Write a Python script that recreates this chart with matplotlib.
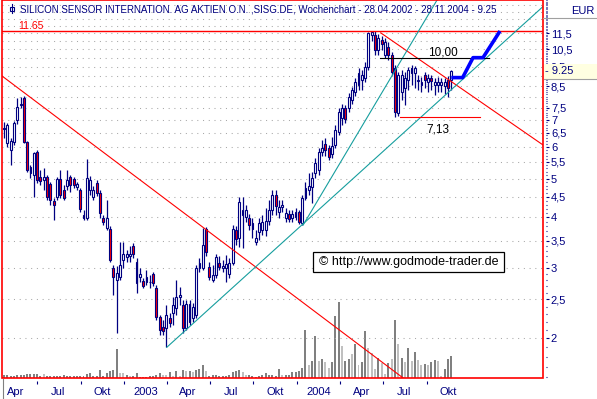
import numpy as np
import pandas as pd
import matplotlib
matplotlib.use("Agg")
import matplotlib.pyplot as plt
import matplotlib.dates as mdates
import matplotlib.transforms as mtransforms
from matplotlib.patches import Rectangle
from matplotlib.lines import Line2D
from matplotlib.ticker import FixedLocator, FixedFormatter, NullFormatter

plt.rcParams['font.family'] = ['Liberation Sans', 'DejaVu Sans']

NAVY = '#000080'
RED = '#ff0000'
TEAL = '#169e9e'

# weekly candles, week starting 22.04.2002 (chart range 28.04.2002 - 28.11.2004)
dates = pd.date_range('2002-04-22', periods=136, freq='7D')

opens = [6.64, 6.13, 5.89, 6.17, 6.99, 7.63, 7.94, 6.17, 5.35, 5.10,
         5.83, 5.05, 4.96, 5.05, 4.85, 4.40, 4.50, 4.99, 4.68, 4.80,
         5.05, 4.99, 4.77, 4.68, 4.06, 3.99, 4.68, 4.50, 4.88, 4.61,
         3.99, 3.77, 3.74, 2.99, 2.79, 2.84, 3.13, 3.19, 3.21, 3.40,
         3.10, 2.84, 2.78, 2.76, 2.76, 2.89, 2.67, 2.26, 2.14, 2.12,
         2.25, 2.31, 2.38, 2.54, 2.42, 2.12, 2.44, 2.25, 2.29, 2.99,
         2.99, 3.74, 3.01, 2.79, 2.87, 3.08, 2.99, 2.99, 2.89, 3.08,
         3.72, 3.56, 4.06, 4.01, 3.99, 3.88, 3.47, 3.68, 3.72, 3.72,
         3.92, 4.17, 4.55, 4.13, 4.25, 3.99, 4.08, 3.99, 4.01, 4.13,
         3.88, 4.47, 4.68, 4.77, 5.16, 5.25, 5.83, 6.10, 5.96, 5.76,
         6.06, 6.52, 7.08, 7.50, 7.50, 7.85, 8.22, 8.55, 8.80, 8.90,
         9.48, 11.40, 11.40, 10.45, 11.07, 10.15, 10.63, 10.15, 9.43, 7.29,
         8.22, 8.41, 8.80, 9.43, 9.16, 8.75, 8.55, 9.06, 8.70, 8.90,
         8.55, 8.55, 8.55, 8.50, 8.80, 8.80]
highs = [6.91, 6.87, 6.30, 6.95, 7.94, 7.99, 8.03, 6.20, 5.41, 5.83,
         5.89, 5.25, 5.32, 5.10, 4.91, 4.47, 5.05, 5.25, 4.83, 5.25,
         5.10, 5.05, 4.91, 4.74, 4.17, 5.59, 5.08, 4.80, 4.96, 4.68,
         4.06, 4.42, 3.81, 3.04, 3.03, 3.47, 3.47, 3.32, 3.40, 3.45,
         3.17, 2.99, 2.82, 2.96, 2.87, 2.92, 2.72, 2.29, 2.22, 2.42,
         2.31, 2.54, 2.79, 2.69, 2.49, 2.49, 2.49, 2.45, 3.04, 3.17,
         3.77, 3.79, 3.10, 3.04, 3.25, 3.21, 3.13, 3.23, 3.17, 3.83,
         3.81, 4.50, 4.50, 4.30, 4.08, 3.99, 3.72, 3.99, 4.06, 4.22,
         4.42, 4.68, 4.68, 4.42, 4.42, 4.22, 4.17, 4.17, 4.22, 4.17,
         4.55, 4.91, 5.16, 5.19, 5.62, 5.96, 6.24, 6.30, 6.06, 6.34,
         6.79, 7.50, 7.67, 7.63, 8.17, 8.46, 8.90, 9.43, 9.32, 9.76,
         11.59, 11.65, 11.65, 11.47, 11.33, 11.20, 10.94, 10.33, 9.59, 9.21,
         9.32, 9.21, 9.48, 9.59, 9.54, 9.06, 8.96, 9.21, 9.11, 9.06,
         8.90, 8.96, 8.90, 8.90, 9.01, 9.32]
lows = [6.30, 5.99, 5.41, 6.06, 6.83, 7.50, 6.13, 5.19, 5.02, 4.50,
        4.88, 4.83, 4.68, 4.42, 4.30, 3.94, 4.42, 4.47, 4.42, 4.68,
        4.63, 4.74, 4.68, 4.13, 3.94, 3.94, 4.55, 4.42, 4.53, 3.99,
        3.83, 3.72, 3.10, 2.57, 2.06, 2.79, 2.99, 3.10, 3.10, 3.17,
        2.60, 2.76, 2.67, 2.72, 2.67, 2.70, 2.22, 2.04, 2.04, 1.90,
        2.14, 2.16, 2.29, 2.42, 2.06, 2.10, 2.16, 2.20, 2.25, 2.92,
        2.96, 3.21, 2.79, 2.76, 2.82, 2.96, 2.92, 2.76, 2.82, 3.04,
        3.42, 3.38, 3.36, 3.90, 3.72, 3.56, 3.42, 3.51, 3.62, 3.60,
        3.83, 4.06, 4.06, 3.99, 4.13, 3.90, 3.90, 3.90, 3.94, 3.86,
        3.83, 4.42, 4.55, 4.35, 5.02, 5.10, 5.69, 5.69, 5.56, 5.62,
        5.96, 6.41, 6.79, 6.87, 7.33, 7.67, 8.03, 8.31, 8.31, 8.70,
        9.32, 11.00, 10.15, 10.15, 10.45, 9.98, 9.87, 9.06, 7.13, 7.15,
        7.85, 7.63, 8.31, 8.55, 8.41, 8.31, 8.22, 8.41, 8.22, 8.31,
        8.08, 8.22, 8.22, 8.12, 7.99, 8.31]
closes = [6.68, 6.79, 6.20, 6.87, 7.54, 7.67, 6.17, 5.25, 5.16, 5.79,
          4.96, 4.94, 5.05, 4.50, 4.42, 4.30, 4.99, 4.55, 4.47, 4.96,
          4.83, 4.83, 4.85, 4.20, 3.99, 5.02, 4.96, 4.68, 4.61, 4.10,
          3.90, 3.99, 3.13, 2.84, 2.91, 3.04, 3.25, 3.25, 3.25, 3.25,
          2.75, 2.89, 2.70, 2.84, 2.77, 2.75, 2.26, 2.10, 2.09, 2.29,
          2.18, 2.42, 2.53, 2.57, 2.12, 2.44, 2.20, 2.40, 2.99, 3.08,
          3.42, 3.28, 2.84, 2.87, 3.19, 3.01, 3.03, 3.06, 3.08, 3.74,
          3.54, 4.37, 4.17, 4.17, 3.83, 3.74, 3.56, 3.88, 3.90, 3.92,
          4.17, 4.55, 4.27, 4.25, 4.30, 4.10, 3.97, 4.08, 4.13, 3.90,
          4.47, 4.74, 4.80, 5.02, 5.47, 5.83, 5.96, 5.89, 5.66, 6.03,
          6.60, 7.33, 7.50, 7.04, 7.99, 8.31, 8.70, 9.16, 9.06, 9.48,
          11.53, 11.59, 10.45, 11.20, 10.82, 10.94, 10.15, 9.21, 7.33, 9.06,
          9.06, 8.90, 9.32, 9.16, 9.43, 8.80, 8.70, 8.80, 8.90, 8.75,
          8.70, 8.70, 8.70, 8.70, 8.41, 9.25]
# weekly volume, thousand shares
volumes = [30, 27, 20, 20, 27, 27, 33, 43, 40, 40,
           43, 17, 43, 23, 17, 17, 23, 17, 33, 20,
           23, 17, 17, 17, 17, 43, 53, 17, 23, 80,
           23, 50, 67, 83, 293, 50, 50, 33, 17, 20,
           50, 15, 15, 15, 17, 23, 27, 50, 27, 27,
           57, 17, 67, 23, 83, 67, 67, 60, 83, 90,
           127, 67, 17, 27, 33, 17, 17, 20, 33, 60,
           73, 83, 60, 27, 27, 17, 15, 20, 33, 50,
           33, 33, 20, 93, 33, 27, 33, 60, 60, 67,
           100, 480, 130, 170, 420, 170, 190, 160, 100, 160,
           620, 760, 320, 170, 190, 240, 340, 130, 160, 470,
           300, 250, 90, 200, 150, 40, 150, 190, 580, 340,
           200, 160, 300, 170, 260, 180, 130, 140, 130, 160,
           180, 170, 20, 90, 190, 220]
light_volume_weeks = [12, 35, 36, 38, 48, 49, 51, 53, 55, 57, 61, 72, 73, 84,
                      92, 95, 97, 98, 102, 105, 107, 110, 111, 112, 114, 115,
                      117, 119, 121, 123, 125, 126, 128, 131, 132]

# drawn analysis lines (date, price)
trend_down_a = (['2002-04-18', '2004-10-18'], [9.0, 1.39])
trend_down_b = (['2004-06-26', '2005-06-04'], [11.53, 6.06])
trend_up_a = (['2003-04-01', '2005-06-04'], [1.90, 13.41])
trend_up_b = (['2004-01-14', '2004-10-23'], [3.83, 13.92])
resistance_10 = (['2004-06-24', '2005-02-10'], [10.0, 10.0])
support_713 = (['2004-08-05', '2005-01-22'], [7.13, 7.13])
projection = (['2004-11-22', '2004-12-16', '2005-01-07', '2005-01-28', '2005-03-05'],
              [8.92, 8.92, 10.0, 10.0, 11.65])
high_level = 11.65
last_price = 9.25

price_ticks = [2, 2.5, 3, 3.5, 4, 4.5, 5, 5.5, 6, 6.5, 7, 7.5, 8.5, 9.5, 10.5, 11.5]
price_labels = ['2', '2,5', '3', '3,5', '4', '4,5', '5', '5,5', '6', '6,5', '7',
                '7,5', '8,5', '9,5', '10,5', '11,5']
quarter_starts = ['2002-04-01', '2002-07-01', '2002-10-01', '2003-01-01', '2003-04-01',
                  '2003-07-01', '2003-10-01', '2004-01-01', '2004-04-01', '2004-07-01',
                  '2004-10-01']
quarter_names = ['Apr', 'Jul', 'Okt', '2003', 'Apr', 'Jul', 'Okt', '2004', 'Apr', 'Jul', 'Okt']


def dnum(lst):
    return mdates.date2num(pd.to_datetime(lst))


W, H = 597, 399
fig = plt.figure(figsize=(W / 100, H / 100), dpi=100)
ax = fig.add_axes([2 / W, 21 / H, 541 / W, 378 / H])
axv = ax.twinx()
ax.set_zorder(axv.get_zorder() + 1)
ax.patch.set_visible(False)

x = dnum(dates)
o, h, l, c = (np.array(v) for v in (opens, highs, lows, closes))
up = c >= o

# volume
vol_colors = ['#c0c0c0' if k in light_volume_weeks else '#808080' for k in range(len(x))]
axv.bar(x, volumes, width=4.2, color=vol_colors, linewidth=0)
axv.set_ylim(0, 3780)
axv.set_axis_off()

# grid
for g in np.arange(2.0, 14.0, 0.5):
    ax.axhline(g, color='#a8a8a8', lw=0.75, ls=(0, (1, 4.5)), zorder=1)

# candles
ax.vlines(x, l, h, color=NAVY, lw=0.9, zorder=3)
lo_b = np.minimum(o, c)
hi_b = np.maximum(o, c)
ax.bar(x, hi_b - lo_b, width=4.0, bottom=lo_b, color=np.where(up, 'white', RED),
       edgecolor=NAVY, linewidth=0.8, zorder=4)

# lines
ax.axhline(high_level, color=RED, lw=1.0, zorder=5)
for pts, col in [(trend_down_a, RED), (trend_down_b, RED), (trend_up_a, TEAL),
                 (trend_up_b, TEAL), (resistance_10, 'black'), (support_713, RED)]:
    ax.plot(dnum(pts[0]), pts[1], color=col, lw=0.8, zorder=5)
ax.plot(dnum(projection[0]), projection[1], color='#0000ff', lw=2.6, zorder=6,
        solid_capstyle='butt')

ax.annotate('10,00', xy=(dnum(['2004-11-05'])[0], 10.0), xytext=(0, 1.5),
            textcoords='offset points', ha='center', va='baseline', fontsize=8.5, color='black')
ax.annotate('7,13', xy=(dnum(['2004-10-25'])[0], 7.13), xytext=(0, -5),
            textcoords='offset points', ha='center', va='top', fontsize=8.5, color='black')
blend = mtransforms.blended_transform_factory(ax.transAxes, ax.transData)
ax.annotate('11.65', xy=(0.03, high_level), xycoords=blend, xytext=(0, 1.5),
            textcoords='offset points', ha='left', va='baseline', fontsize=7.5, color=RED)

# axes limits / scale
ax.set_yscale('log')
ax.set_ylim(1.593, 13.92)
ax.set_xlim(x[0] - 4.2, x[0] + 1138.8)

# y axis (right)
ax.yaxis.tick_right()
ax.yaxis.set_major_locator(FixedLocator(price_ticks))
ax.yaxis.set_major_formatter(FixedFormatter(price_labels))
ax.yaxis.set_minor_locator(FixedLocator(np.arange(1.6, 13.95, 0.1)))
ax.yaxis.set_minor_formatter(NullFormatter())
ax.tick_params(axis='y', which='major', length=2.5, width=0.8, color=NAVY,
               labelcolor=NAVY, labelsize=8, pad=1.2)
ax.tick_params(axis='y', which='minor', length=1.0, width=0.8, color=NAVY)

# x axis (quarters)
qs = dnum(quarter_starts)
ax.xaxis.set_major_locator(FixedLocator(qs[1:]))
ax.xaxis.set_major_formatter(NullFormatter())
ax.xaxis.set_minor_locator(FixedLocator(qs + 45))
ax.xaxis.set_minor_formatter(FixedFormatter(quarter_names))
ax.tick_params(axis='x', which='major', length=2.2, width=0.8, color=NAVY, direction='out')
ax.tick_params(axis='x', which='minor', length=0, labelsize=8, labelcolor=NAVY, pad=4.5)

for s in ax.spines.values():
    s.set_visible(False)
ax.spines['right'].set_position(('outward', 2))
ax.spines['bottom'].set_position(('outward', 2))
ax.add_patch(Rectangle((0, 0), 1, 1, transform=ax.transAxes, fill=False, ec=RED,
                       lw=1.2, clip_on=False, zorder=10))

# title, cut off at the right frame like the original
title = ax.text(18 / 541, 1 - 9.5 / 378,
                'SILICON SENSOR INTERNATION. AG AKTIEN O.N. ,SISG.DE, Wochenchart - '
                '28.04.2002 - 28.11.2004 - 9.25',
                transform=ax.transAxes, va='center', ha='left', fontsize=7.05, color=NAVY,
                zorder=7)
title.set_clip_box(ax.bbox)
title.set_clip_on(True)
fig.add_artist(Line2D([12 / W] * 2, [1 - 4 / H, 1 - 13 / H], color=NAVY, lw=0.8))
fig.add_artist(Rectangle((10 / W, 1 - 10.5 / H), 4 / W, 4 / H, transform=fig.transFigure,
                         fc='white', ec=NAVY, lw=0.8))

# right panel decorations
fig.text(595 / W, 1 - 10.5 / H, 'EUR', ha='right', va='center', fontsize=8, color=NAVY)
fig.add_artist(Line2D([543 / W, 1], [1 - 17.5 / H] * 2, color='#a0a0a0', lw=0.8))
fig.add_artist(Line2D([3 / W] * 2, [0, 20 / H], color='#808080', lw=0.8))

fig.canvas.draw()
ypix = ax.transData.transform((x[0], last_price))[1]
fig.add_artist(Rectangle((544 / W, (ypix - 7.5) / H), 53 / W, 15 / H,
                         transform=fig.transFigure, fc='#ffffe1', ec='none', zorder=2))
fig.add_artist(Line2D([544 / W, 1], [(ypix - 7.5) / H] * 2, color='#a0a0a0', lw=0.8, zorder=3))
fig.text(545 / W, ypix / H, '- 9.25', ha='left', va='center', fontsize=8, color=NAVY, zorder=4)

# watermark
fig.add_artist(Rectangle((312.5 / W, 1 - 271.5 / H), 191.5 / W, 19.5 / H,
                         transform=fig.transFigure, fc='white', ec='black', lw=0.9, zorder=2))
fig.text(408.5 / W, 1 - 261.5 / H, '\u00a9 http://www.godmode-trader.de', ha='center',
         va='center', fontsize=9, color='black', zorder=3)

fig.savefig('out.png', dpi=100)
